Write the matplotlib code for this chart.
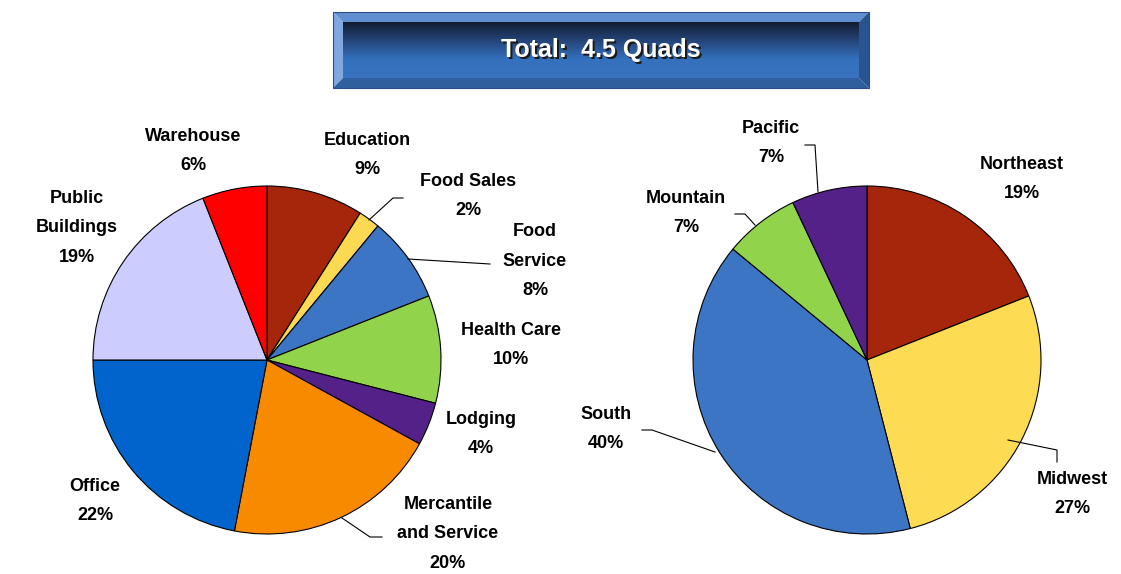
import numpy as np
import matplotlib
matplotlib.use('Agg')
from matplotlib import pyplot as plt
from matplotlib.patches import Polygon

# data
sector_labels = ['Education', 'Food Sales', 'Food\nService', 'Health Care', 'Lodging',
                 'Mercantile\nand Service', 'Office', 'Public\nBuildings', 'Warehouse']
sector_pct = [9, 2, 8, 10, 4, 20, 22, 19, 6]
sector_colors = ['#a5260b', '#fcd953', '#3b75c3', '#91d44b', '#542188',
                 '#f88a00', '#0064cc', '#ccccff', '#ff0000']

region_labels = ['Northeast', 'Midwest', 'South', 'Mountain', 'Pacific']
region_pct = [19, 27, 40, 7, 7]
region_colors = ['#a5260b', '#fddb53', '#3b75c3', '#91d44b', '#542188']

title_text = 'Total:  4.5 Quads'

W, H = 1121, 574
fig = plt.figure(figsize=(W / 100, H / 100), dpi=100)
ax = fig.add_axes([0, 0, 1, 1])

def py(y):
    # pixel row -> data y
    return H - y

R = 174
wp = dict(edgecolor='black', linewidth=0.8)
ax.pie(sector_pct, colors=sector_colors, startangle=90, counterclock=False,
       center=(267, py(360)), radius=R, wedgeprops=wp)
ax.pie(region_pct, colors=region_colors, startangle=90, counterclock=False,
       center=(867, py(360)), radius=R, wedgeprops=wp)

font = dict(family=['Liberation Sans', 'DejaVu Sans'], weight='bold', size=13,
            ha='center', va='center', linespacing=1.95, color='black')

# label positions (pixel centers)
sector_pos = [(367, 155), (468, 196), (535, 261), (511, 345), (481, 434),
              (448, 534), (95, 501), (77, 228), (193, 151)]
for lab, p, (x, y) in zip(sector_labels, sector_pct, sector_pos):
    ax.text(x, py(y), '%s\n%d%%' % (lab, p), **font)

region_pos = [(1022, 179), (1072, 494), (606, 429), (686, 213), (771, 143)]
for lab, p, (x, y) in zip(region_labels, region_pct, region_pos):
    ax.text(x, py(y), '%s\n%d%%' % (lab, p), **font)

# leader lines
leaders = [
    [(369, 220), (393, 198), (403, 198)],
    [(408, 259), (490, 264)],
    [(342, 518), (370, 537), (382, 537)],
    [(818, 192), (815, 145), (805, 145)],
    [(755, 225), (745, 214), (735, 214)],
    [(715, 452), (652, 430), (642, 430)],
    [(1008, 440), (1057, 450), (1057, 462)],
]
for pts in leaders:
    xs = [p[0] for p in pts]
    ys = [py(p[1]) for p in pts]
    ax.plot(xs, ys, color='black', lw=0.8)

# title box with bevel
x0, x1, y0, y1 = 333, 869, 12, 88
b = 10
ix0, ix1, iy0, iy1 = x0 + b, x1 - b, y0 + b, y1 - b
bevels = [
    ([(x0, y0), (x1, y0), (ix1, iy0), (ix0, iy0)], '#5f8fd0'),
    ([(x0, y0), (ix0, iy0), (ix0, iy1), (x0, y1)], '#80a8de'),
    ([(x1, y0), (x1, y1), (ix1, iy1), (ix1, iy0)], '#2a5490'),
    ([(x0, y1), (ix0, iy1), (ix1, iy1), (x1, y1)], '#305f9f'),
]
for pts, c in bevels:
    ax.add_patch(Polygon([(x, py(y)) for x, y in pts], closed=True,
                         facecolor=c, edgecolor='none'))
grad = np.linspace(0, 1, 100).reshape(-1, 1)
cmap = matplotlib.colors.LinearSegmentedColormap.from_list(
    'g', ['#121c33', '#25457a', '#3470bc', '#3a74c0'])
ax.imshow(grad, cmap=cmap, extent=(ix0, ix1, py(iy1), py(iy0)),
          origin='upper', aspect='auto', zorder=1)
ax.add_patch(plt.Rectangle((x0, py(y1)), x1 - x0, y1 - y0, fill=False,
                           edgecolor='#2a4f88', lw=0.8, zorder=2))
tfont = dict(family=['Liberation Sans', 'DejaVu Sans'], weight='bold', size=18,
             ha='center', va='center', zorder=3)
ax.text(603, py(52), title_text, color='#1a1a1a', **tfont)
ax.text(601, py(50), title_text, color='white', **tfont)

ax.set_xlim(0, W)
ax.set_ylim(0, H)
ax.set_aspect('equal')
ax.axis('off')

fig.savefig('out.png', dpi=100)
